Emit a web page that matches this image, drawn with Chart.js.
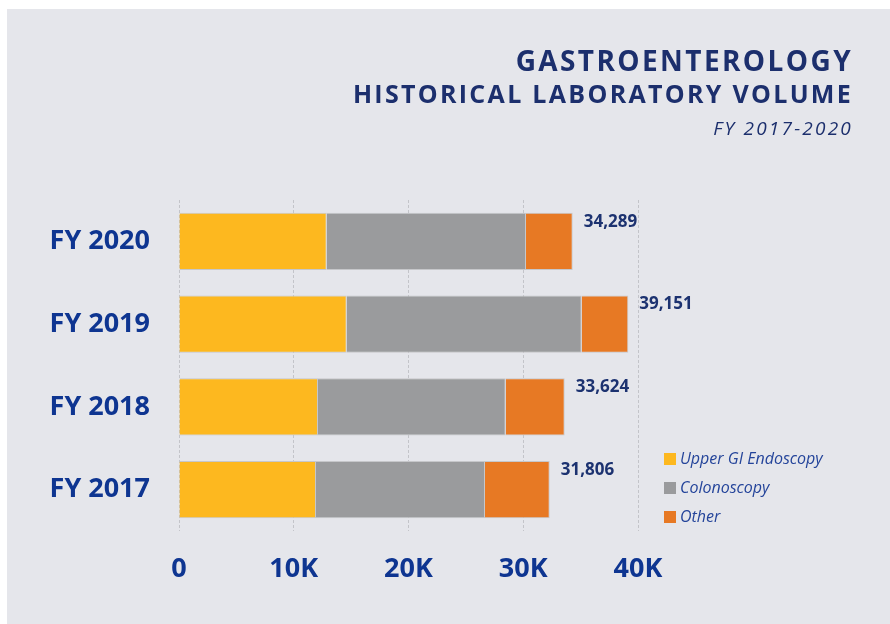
<!DOCTYPE html>
<html>
<head>
<meta charset="utf-8">
<script src="https://cdn.jsdelivr.net/npm/chart.js@4.4.1/dist/chart.umd.min.js"></script>
<style>
  html, body { margin: 0; padding: 0; background: #ffffff; }
  #panel { position: absolute; left: 7px; top: 9px; width: 883px; height: 615px; background: #e5e6eb; }
  #labVolumeChart { display: block; }
</style>
</head>
<body>
<div id="panel"><canvas id="labVolumeChart" width="883" height="615"></canvas></div>
<script>
const categories = ['FY 2020', 'FY 2019', 'FY 2018', 'FY 2017'];
const upperGI = [12871, 14614, 12113, 11939];
const colonoscopy = [17369, 20479, 16357, 14728];
const other = [4069, 4062, 5142, 5638];
const totals = [34289, 39151, 33624, 31806];
const tickLabels = ['0', '10K', '20K', '30K', '40K'];
const titleLines = ['GASTROENTEROLOGY', 'HISTORICAL LABORATORY VOLUME', 'FY 2017-2020'];

const FONT = "'Open Sans', sans-serif";

// three right-aligned title lines, letter spaced
const titlePlugin = {
  id: 'titleBlock',
  afterDraw(chart) {
    const ctx = chart.ctx;
    const lines = [
      { text: titleLines[0], font: `bold 28px ${FONT}`, spacing: 2.4, y: 62 },
      { text: titleLines[1], font: `bold 25px ${FONT}`, spacing: 2.3, y: 94 },
      { text: titleLines[2], font: `italic 19px ${FONT}`, spacing: 2.2, y: 126 }
    ];
    ctx.save();
    ctx.textAlign = 'right';
    ctx.textBaseline = 'alphabetic';
    ctx.fillStyle = '#1c2f6d';
    lines.forEach(l => {
      ctx.font = l.font;
      ctx.letterSpacing = l.spacing + 'px';
      ctx.fillText(l.text, 846, l.y);
    });
    ctx.restore();
  }
};

const totalsPlugin = {
  id: 'totals',
  afterDatasetsDraw(chart) {
    const ctx = chart.ctx;
    const meta = chart.getDatasetMeta(chart.data.datasets.length - 1);
    ctx.save();
    ctx.font = `bold 17px ${FONT}`;
    ctx.fillStyle = '#1c3270';
    ctx.textAlign = 'left';
    ctx.textBaseline = 'middle';
    meta.data.forEach((bar, i) => {
      ctx.fillText(totals[i].toLocaleString('en-US'), bar.x + 11, bar.y - bar.height / 2 + 9);
    });
    ctx.restore();
  }
};

const legendPlugin = {
  id: 'sideLegend',
  afterDraw(chart) {
    const ctx = chart.ctx;
    ctx.save();
    ctx.font = `italic 16px ${FONT}`;
    ctx.textAlign = 'left';
    ctx.textBaseline = 'middle';
    chart.data.datasets.forEach((ds, i) => {
      const y = 450 + i * 29;
      ctx.fillStyle = ds.backgroundColor;
      ctx.fillRect(657, y - 6, 12, 12);
      ctx.fillStyle = '#24449a';
      ctx.fillText(ds.label, 673, y);
    });
    ctx.restore();
  }
};

const data = {
  labels: categories,
  datasets: [
    { label: 'Upper GI Endoscopy', data: upperGI, backgroundColor: '#fdb81f' },
    { label: 'Colonoscopy', data: colonoscopy, backgroundColor: '#9a9b9d' },
    { label: 'Other', data: other, backgroundColor: '#e77924' }
  ].map(ds => ({ ...ds, borderColor: '#c6c7ca', borderWidth: 1, categoryPercentage: 1, barPercentage: 0.69 }))
};

const options = {
  indexAxis: 'y',
  responsive: false,
  animation: false,
  layout: { padding: { left: 0, top: 191, right: 252, bottom: 0 } },
  plugins: {
    legend: { display: false },
    tooltip: { enabled: false }
  },
  scales: {
    x: {
      stacked: true,
      min: 0,
      max: 40000,
      afterFit: scale => { scale.height = 93; },
      afterBuildTicks: scale => { scale.ticks = [0, 10000, 20000, 30000, 40000].map(v => ({ value: v })); },
      border: { display: false, dash: [3, 2] },
      grid: { color: '#c3c4c9', lineWidth: 1, drawTicks: false },
      ticks: {
        padding: 22,
        color: '#0e3591',
        font: { family: FONT, size: 27, weight: 'bold' },
        callback: (v, i) => tickLabels[i]
      }
    },
    y: {
      stacked: true,
      afterFit: scale => { scale.width = 172; },
      border: { display: false },
      grid: { display: false },
      ticks: {
        padding: 21,
        color: '#0e3591',
        font: { family: FONT, size: 27, weight: 'bold' }
      }
    }
  }
};

const chart = new Chart(document.getElementById('labVolumeChart'), {
  type: 'bar',
  data,
  options,
  plugins: [titlePlugin, totalsPlugin, legendPlugin]
});
</script>
</body>
</html>
